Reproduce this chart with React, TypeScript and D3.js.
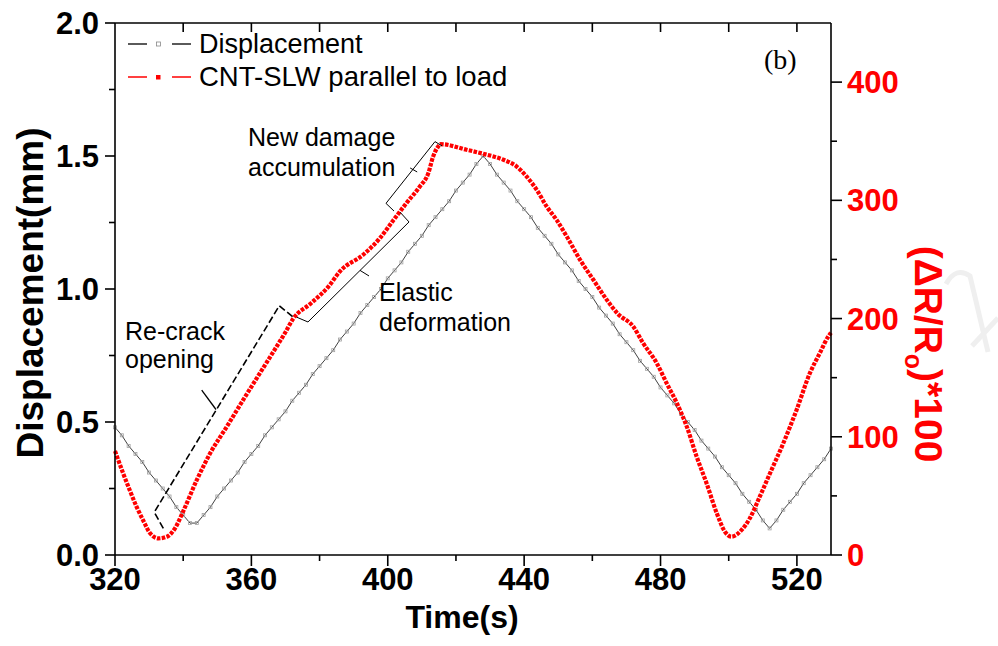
import React from 'react';
import * as d3 from 'd3';

// Axis ticks
const timeTicks = [320, 360, 400, 440, 480, 520];
const timeMinorTicks = [340, 380, 420, 460, 500];
const topTicks = [340, 360, 380, 400, 420, 440, 460, 480, 500, 520];
const dispTicks = [0.0, 0.5, 1.0, 1.5, 2.0];
const dispMinorTicks = [0.25, 0.75, 1.25, 1.75];
const resTicks = [0, 100, 200, 300, 400];
const resMinorTicks = [50, 150, 250, 350];

// Displacement (mm) vs time (s)
const dispTime = [
  320, 322, 324, 326, 328, 330, 332, 334, 336, 338, 340, 342, 344, 346, 348, 350,
  352, 354, 356, 358, 360, 362, 364, 366, 368, 370, 372, 374, 376, 378, 380, 382,
  384, 386, 388, 390, 392, 394, 396, 398, 400, 402, 404, 406, 408, 410, 412, 414,
  416, 418, 420, 422, 424, 426, 428, 430, 432, 434, 436, 438, 440, 442, 444, 446,
  448, 450, 452, 454, 456, 458, 460, 462, 464, 466, 468, 470, 472, 474, 476, 478,
  480, 482, 484, 486, 488, 490, 492, 494, 496, 498, 500, 502, 504, 506, 508, 510,
  512, 514, 516, 518, 520, 522, 524, 526, 528, 530,
];
const dispValues = [
  0.48, 0.45, 0.41, 0.38, 0.35, 0.31, 0.28, 0.25, 0.22, 0.18, 0.15, 0.12, 0.12, 0.15, 0.18, 0.22,
  0.25, 0.28, 0.31, 0.35, 0.38, 0.41, 0.45, 0.48, 0.51, 0.54, 0.58, 0.61, 0.64, 0.68, 0.71, 0.74,
  0.77, 0.81, 0.84, 0.87, 0.91, 0.94, 0.97, 1.00, 1.04, 1.07, 1.10, 1.14, 1.17, 1.20, 1.24, 1.27,
  1.30, 1.33, 1.37, 1.40, 1.43, 1.47, 1.50, 1.47, 1.43, 1.40, 1.37, 1.33, 1.30, 1.27, 1.23, 1.20,
  1.17, 1.13, 1.10, 1.07, 1.03, 1.00, 0.97, 0.93, 0.90, 0.87, 0.83, 0.80, 0.77, 0.73, 0.70, 0.67,
  0.63, 0.60, 0.57, 0.53, 0.50, 0.47, 0.43, 0.40, 0.37, 0.33, 0.30, 0.27, 0.23, 0.20, 0.17, 0.13,
  0.10, 0.13, 0.17, 0.20, 0.23, 0.27, 0.30, 0.33, 0.36, 0.40,
];

// CNT-SLW resistance change (ΔR/Ro)*100 vs time (s)
const resTime = [
  320.0, 322.4, 324.3, 326.3, 328.2, 330.3, 332.7, 335.2, 337.6, 340.0, 344.0, 347.9,
  352.8, 357.6, 362.5, 367.4, 369.9, 372.3, 377.5, 382.6, 386.0, 392.8, 397.7, 401.6,
  405.5, 409.4, 411.9, 413.3, 414.8, 415.5, 423.1, 428.0, 433.9, 437.8, 440.7, 443.7,
  446.6, 449.5, 452.5, 456.4, 460.3, 464.2, 467.5, 472.0, 474.9, 478.9, 481.8, 484.8,
  487.7, 490.6, 493.5, 496.5, 498.9, 500.8, 503.8, 506.2, 509.1, 512.1, 516.0, 519.9,
  523.8, 526.7, 529.2, 530.0,
];
const resValues = [
  88, 69, 55, 41, 29.6, 18.4, 14.1, 15.5, 22.6, 37, 63.5, 86,
  108.6, 131.2, 153.8, 176.3, 188, 200, 213, 227, 240, 254, 268, 283,
  297.7, 311.7, 323, 337, 345.6, 347.5, 342.8, 339.4, 334.3, 328.6, 320.2, 308.9,
  294.8, 283.5, 269.4, 249.7, 232.8, 216, 204, 193.2, 179.2, 162.2, 145.3, 128.4,
  108.6, 83.2, 60.7, 35.3, 19.7, 15.5, 21.2, 31.1, 49.3, 69.1, 94.5, 122.7,
  153.8, 170.7, 184.8, 188,
];

const legendLabels = ['Displacement', 'CNT-SLW parallel to load'];

// Annotation brackets in (time, displacement) units
const recrackBracket: [number, number][] = [[334.17, 0.1], [331.53, 0.161], [368.19, 0.937], [372.12, 0.896]];
const recrackTick: [number, number][] = [[349.62, 0.547], [345.43, 0.62]];
const elasticBracket: [number, number][] = [[373.29, 0.894], [376.6, 0.876], [406.23, 1.252], [403.59, 1.289]];
const elasticTick: [number, number][] = [[391.86, 1.07], [394.5, 1.049]];
const damageBracket: [number, number][] = [[401.83, 1.293], [399.48, 1.322], [413.85, 1.554], [415.91, 1.538]];
const damageTick: [number, number][] = [[408.63, 1.44], [406.57, 1.455]];

const FONT = "'Liberation Sans', Arial, Helvetica, sans-serif";
const RED = '#ff0000';

const W = 998;
const H = 646;
const left = 115;
const right = 831;
const top = 23;
const bottom = 555;

export default function App() {
  const x = d3.scaleLinear().domain([320, 530]).range([left, right]);
  const yL = d3.scaleLinear().domain([0, 2]).range([bottom, top]);
  const yR = d3.scaleLinear().domain([0, 450]).range([bottom, top]);

  const dispPts = dispTime.map((t, i) => [x(t), yL(dispValues[i])] as [number, number]);
  const resPts = resTime.map((t, i) => [x(t), yR(resValues[i])] as [number, number]);

  const dispLine = d3.line<[number, number]>().x(d => d[0]).y(d => d[1]);
  const resLine = d3.line<[number, number]>().x(d => d[0]).y(d => d[1]).curve(d3.curveMonotoneX);
  const annLine = d3.line<[number, number]>().x(d => x(d[0])).y(d => yL(d[1]));

  const axisStroke = { stroke: '#000', strokeWidth: 1.6 };

  return (
    <svg width={W} height={H} style={{ position: 'absolute', left: 0, top: 0, background: '#fff' }}
      fontFamily={FONT}>
      <rect x={0} y={0} width={W} height={H} fill="#fff" />

      {/* faint background mark at the right edge */}
      <path d="M946,284 Q956,266 970,276 L988,352" fill="none" stroke="#efefef" strokeWidth={5} />
      <path d="M972,346 L998,318" fill="none" stroke="#efefef" strokeWidth={5} />

      {/* data: displacement */}
      <path d={dispLine(dispPts) || ''} fill="none" stroke="#404040" strokeWidth={1} />
      {dispPts.map((p, i) => (
        <rect key={'dm' + i} x={p[0] - 1.5} y={p[1] - 1.5} width={3} height={3}
          fill="none" stroke="#a0a0a0" strokeWidth={0.8} />
      ))}

      {/* data: resistance change */}
      <path d={resLine(resPts) || ''} fill="none" stroke={RED} strokeWidth={4.2}
        strokeDasharray="3.6 1.3" />

      {/* annotation brackets */}
      <path d={annLine(recrackBracket) || ''} fill="none" stroke="#000" strokeWidth={1.6} strokeDasharray="7 3" />
      <path d={annLine(recrackTick) || ''} fill="none" stroke="#000" strokeWidth={1.3} />
      <path d={annLine(elasticBracket) || ''} fill="none" stroke="#000" strokeWidth={1} />
      <path d={annLine(elasticTick) || ''} fill="none" stroke="#000" strokeWidth={1} />
      <path d={annLine(damageBracket) || ''} fill="none" stroke="#000" strokeWidth={1} />
      <path d={annLine(damageTick) || ''} fill="none" stroke="#000" strokeWidth={1} />

      <text x={248} y={146} fontSize={25}>New damage</text>
      <text x={248} y={176} fontSize={25}>accumulation</text>
      <text x={379} y={301} fontSize={25}>Elastic</text>
      <text x={379} y={331} fontSize={25}>deformation</text>
      <text x={125} y={340} fontSize={25}>Re-crack</text>
      <text x={125} y={368} fontSize={25}>opening</text>
      <text x={764} y={69} fontSize={28} fontFamily="'Liberation Serif', 'Times New Roman', serif">(b)</text>

      {/* frame */}
      <line x1={left} x2={left} y1={top} y2={bottom} {...axisStroke} />
      <line x1={right} x2={right} y1={top} y2={bottom} {...axisStroke} />
      <line x1={left} x2={right} y1={bottom} y2={bottom} {...axisStroke} />
      <line x1={left} x2={right} y1={top} y2={top} {...axisStroke} />

      {/* bottom axis */}
      {timeTicks.map(t => (
        <g key={'bt' + t}>
          <line x1={x(t)} x2={x(t)} y1={bottom} y2={bottom + 11} {...axisStroke} />
          <text x={x(t)} y={590} textAnchor="middle" fontSize={31} fontWeight="bold">{t}</text>
        </g>
      ))}
      {timeMinorTicks.map(t => (
        <line key={'bm' + t} x1={x(t)} x2={x(t)} y1={bottom} y2={bottom + 6} {...axisStroke} />
      ))}
      {topTicks.map(t => (
        <line key={'tt' + t} x1={x(t)} x2={x(t)} y1={top} y2={top + 9} {...axisStroke} />
      ))}
      <text x={462} y={628} textAnchor="middle" fontSize={32} fontWeight="bold">Time(s)</text>

      {/* left axis */}
      {dispTicks.map(v => (
        <g key={'lt' + v}>
          <line x1={left - 10} x2={left} y1={yL(v)} y2={yL(v)} {...axisStroke} />
          <text x={99} y={yL(v) + 11} textAnchor="end" fontSize={31} fontWeight="bold">{v.toFixed(1)}</text>
        </g>
      ))}
      {dispMinorTicks.map(v => (
        <line key={'lm' + v} x1={left - 6} x2={left} y1={yL(v)} y2={yL(v)} {...axisStroke} />
      ))}
      <text transform={`translate(43,${(top + bottom) / 2 + 4}) rotate(-90)`} textAnchor="middle"
        fontSize={37} fontWeight="bold">Displacement(mm)</text>

      {/* right axis */}
      {resTicks.map(v => (
        <g key={'rt' + v}>
          <line x1={right} x2={right + 11} y1={yR(v)} y2={yR(v)} {...axisStroke} />
          <text x={847} y={yR(v) + 11} fontSize={31} fontWeight="bold" fill={RED}>{v}</text>
        </g>
      ))}
      {resMinorTicks.map(v => (
        <line key={'rm' + v} x1={right} x2={right + 6} y1={yR(v)} y2={yR(v)} {...axisStroke} />
      ))}
      <text transform={`translate(915,354) rotate(90)`} textAnchor="middle" fontSize={39}
        fontWeight="bold" fill={RED}>
        (ΔR/R<tspan dy={10} fontSize={25}>o</tspan><tspan dy={-10}>)*100</tspan>
      </text>

      {/* legend */}
      <g>
        <line x1={128} x2={147} y1={44} y2={44} stroke="#000" strokeWidth={1.3} />
        <rect x={156.5} y={42} width={4} height={4} fill="none" stroke="#888" strokeWidth={0.8} />
        <line x1={172} x2={191} y1={44} y2={44} stroke="#000" strokeWidth={1.3} />
        <text x={199} y={53} fontSize={27}>{legendLabels[0]}</text>

        <line x1={128} x2={147} y1={77} y2={77} stroke={RED} strokeWidth={1.5} />
        <rect x={156} y={75} width={4.5} height={4.5} fill={RED} />
        <line x1={172} x2={191} y1={77} y2={77} stroke={RED} strokeWidth={1.5} />
        <text x={199} y={86} fontSize={27.5}>{legendLabels[1]}</text>
      </g>
    </svg>
  );
}
